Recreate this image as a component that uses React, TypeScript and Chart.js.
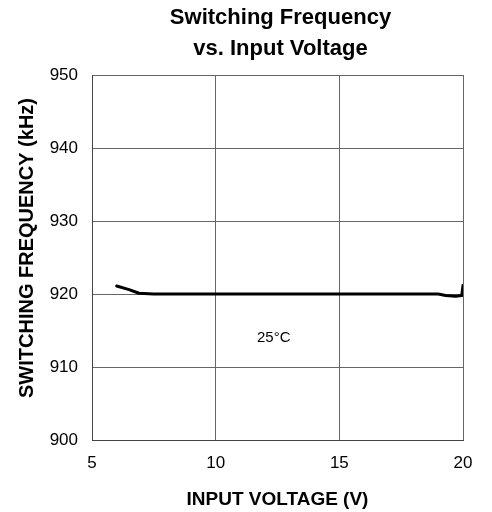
import React, { useEffect, useRef } from "react";
import { Chart, registerables } from "chart.js";

Chart.register(...registerables);

const titleLines = ["Switching Frequency", "vs. Input Voltage"];
const xAxisTitle = "INPUT VOLTAGE (V)";
const yAxisTitle = "SWITCHING FREQUENCY (kHz)";
const tempLabel = "25°C";
const tempLabelAt = { x: 12.35, y: 914 };

const inputVoltage = [6.0, 6.5, 6.9, 7.5, 10, 15, 19, 19.3, 19.7, 19.95, 20.0];
const frequency = [921.1, 920.6, 920.1, 920.0, 920.0, 920.0, 920.0, 919.8, 919.7, 919.8, 921.2];

const xMin = 5, xMax = 20, xStep = 5;
const yMin = 900, yMax = 950, yStep = 10;

const FONT = "Arial, 'Liberation Sans', Helvetica, sans-serif";

const textPlugin = {
  id: "textPlugin",
  afterDraw(chart: any) {
    const { ctx, chartArea, scales } = chart;
    const cx = (chartArea.left + chartArea.right) / 2;
    ctx.save();
    ctx.fillStyle = "#000";
    ctx.textAlign = "center";
    ctx.textBaseline = "middle";
    ctx.font = `bold 22px ${FONT}`;
    ctx.fillText(titleLines[0], cx + 3, 18);
    ctx.fillText(titleLines[1], cx + 3, 49);

    ctx.font = `bold 20px ${FONT}`;
    ctx.translate(27, 248);
    ctx.rotate(-Math.PI / 2);
    ctx.fillText(yAxisTitle, 0, 0);
    ctx.restore();

    ctx.save();
    ctx.fillStyle = "#000";
    ctx.textAlign = "center";
    ctx.textBaseline = "middle";
    ctx.font = `15px ${FONT}`;
    ctx.fillText(tempLabel, scales.x.getPixelForValue(tempLabelAt.x), scales.y.getPixelForValue(tempLabelAt.y));
    ctx.restore();
  },
};

export default function App() {
  const ref = useRef<HTMLCanvasElement | null>(null);
  useEffect(() => {
    if (!ref.current) return;
    const chart = new Chart(ref.current, {
      type: "line",
      data: {
        datasets: [
          {
            data: inputVoltage.map((v, i) => ({ x: v, y: frequency[i] })),
            borderColor: "#000",
            borderWidth: 3,
            pointRadius: 0,
            tension: 0,
            borderCapStyle: "round",
            borderJoinStyle: "round",
            fill: false,
          },
        ],
      },
      options: {
        animation: false,
        responsive: false,
        devicePixelRatio: 1,
        layout: { padding: { top: 75, right: 29, left: 0, bottom: 0 } },
        plugins: { legend: { display: false }, title: { display: false }, tooltip: { enabled: false } },
        scales: {
          x: {
            type: "linear",
            min: xMin,
            max: xMax,
            afterFit(scale: any) {
              scale.height = 72;
            },
            ticks: {
              stepSize: xStep,
              color: "#000",
              font: { family: FONT, size: 17 },
              padding: 13,
            },
            grid: { color: "#666", lineWidth: 1, drawTicks: false, tickLength: 0 },
            border: { display: true, color: "#444", width: 1 },
            title: {
              display: true,
              text: xAxisTitle,
              color: "#000",
              font: { family: FONT, size: 19, weight: "bold" },
              padding: { top: 0, bottom: 1 },
            },
          },
          y: {
            type: "linear",
            min: yMin,
            max: yMax,
            afterFit(scale: any) {
              scale.width = 92;
            },
            ticks: {
              stepSize: yStep,
              color: "#000",
              font: { family: FONT, size: 17 },
              padding: 14,
            },
            grid: { color: "#666", lineWidth: 1, drawTicks: false, tickLength: 0 },
            border: { display: true, color: "#444", width: 1 },
          },
        },
      },
      plugins: [textPlugin],
    } as any);
    return () => chart.destroy();
  }, []);
  return (
    <canvas
      ref={ref}
      width={492}
      height={512}
      style={{ position: "absolute", left: 0, top: 0, width: 492, height: 512, display: "block" }}
    />
  );
}
